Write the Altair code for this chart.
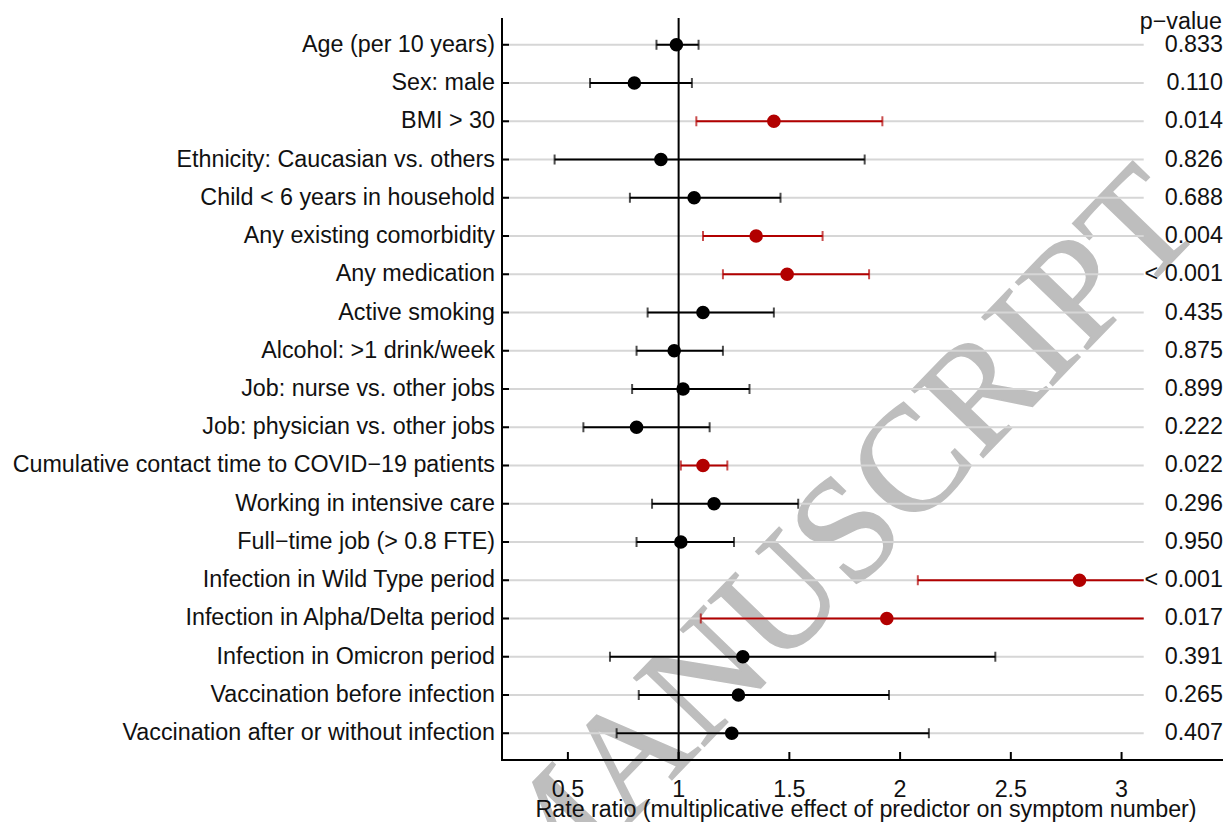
import altair as alt
import pandas as pd

labels = [
    "Age (per 10 years)",
    "Sex: male",
    "BMI > 30",
    "Ethnicity: Caucasian vs. others",
    "Child < 6 years in household",
    "Any existing comorbidity",
    "Any medication",
    "Active smoking",
    "Alcohol: >1 drink/week",
    "Job: nurse vs. other jobs",
    "Job: physician vs. other jobs",
    "Cumulative contact time to COVID\u221219 patients",
    "Working in intensive care",
    "Full\u2212time job (> 0.8 FTE)",
    "Infection in Wild Type period",
    "Infection in Alpha/Delta period",
    "Infection in Omicron period",
    "Vaccination before infection",
    "Vaccination after or without infection",
]
estimate = [0.99, 0.80, 1.43, 0.92, 1.07, 1.35, 1.49, 1.11, 0.98, 1.02,
            0.81, 1.11, 1.16, 1.01, 2.81, 1.94, 1.29, 1.27, 1.24]
ci_low = [0.90, 0.60, 1.08, 0.44, 0.78, 1.11, 1.20, 0.86, 0.81, 0.79,
          0.57, 1.01, 0.88, 0.81, 2.08, 1.10, 0.69, 0.82, 0.72]
ci_high = [1.09, 1.06, 1.92, 1.84, 1.46, 1.65, 1.86, 1.43, 1.20, 1.32,
           1.14, 1.22, 1.54, 1.25, 3.80, 3.42, 2.43, 1.95, 2.13]
p_text = ["0.833", "0.110", "0.014", "0.826", "0.688", "0.004", "< 0.001",
          "0.435", "0.875", "0.899", "0.222", "0.022", "0.296", "0.950",
          "< 0.001", "0.017", "0.391", "0.265", "0.407"]
x_ticks = [0.5, 1, 1.5, 2, 2.5, 3]
x_title = "Rate ratio (multiplicative effect of predictor on symptom number)"
p_header = "p\u2212value"
watermark_text = "MANUSCRIPT"

X_MIN, X_MAX = 0.2025, 3.458
CLIP = 3.1
W, H = 721, 742
FONT = "Liberation Sans"
FS = 23.3
INK = "#111111"
RED = "#b20000"


def is_sig(p):
    return p.startswith("<") or float(p) < 0.05


df = pd.DataFrame({
    "label": labels,
    "est": estimate,
    "lo": ci_low,
    "hi": ci_high,
    "p": p_text,
    "sig": ["yes" if is_sig(p) else "no" for p in p_text],
})
df["hi_c"] = df["hi"].clip(upper=CLIP)
df["capped"] = df["hi"] <= CLIP

xscale = alt.Scale(domain=[X_MIN, X_MAX], nice=False, zero=False)
yscale = alt.Scale(type="point", padding=0.7)
Y = alt.Y("label:N", sort=labels, scale=yscale, axis=None)
COLOR = alt.Color("sig:N", scale=alt.Scale(domain=["no", "yes"], range=["#000000", RED]), legend=None)

base = alt.Chart(df)
ticks_df = pd.DataFrame({"v": x_ticks})

watermark = alt.Chart(pd.DataFrame({"t": [watermark_text]})).mark_text(
    angle=314, font="Liberation Serif", fontSize=150, color="#bebebe",
    stroke="#bebebe", strokeWidth=1.5,
    align="center", baseline="middle"
).encode(x=alt.value(335), y=alt.value(526), text="t:N")

grid = base.mark_rule(color="#d6d6d6", strokeWidth=2).encode(
    y=Y, x=alt.X(datum=X_MIN, scale=xscale, axis=None), x2=alt.datum(CLIP))

# axis lines
yaxis_line = alt.Chart(pd.DataFrame({"a": [0]})).mark_rule(color="#000000", strokeWidth=2).encode(
    x=alt.value(0), y=alt.value(0), y2=alt.value(H + 1))
xaxis_line = alt.Chart(pd.DataFrame({"a": [0]})).mark_rule(color="#000000", strokeWidth=2).encode(
    x=alt.value(-1), x2=alt.value(W), y=alt.value(H))

# inward ticks
ytick = base.mark_rule(color="#000000", strokeWidth=2).encode(
    y=Y, x=alt.value(0), x2=alt.value(7))
xtick = alt.Chart(ticks_df).mark_rule(color="#000000", strokeWidth=2).encode(
    x=alt.X("v:Q", scale=xscale, axis=None), y=alt.value(H), y2=alt.value(H - 8))

# axis labels and title
ylabels = base.mark_text(align="right", baseline="middle", font=FONT, fontSize=FS, color=INK).encode(
    y=Y, x=alt.value(-7), text="label:N")
xlabels = alt.Chart(ticks_df).mark_text(align="center", baseline="middle", font=FONT, fontSize=FS, color=INK).encode(
    x=alt.X("v:Q", scale=xscale, axis=None), y=alt.value(H + 30), text=alt.Text("v:Q", format="~g"))
xtitle = alt.Chart(pd.DataFrame({"t": [x_title]})).mark_text(
    align="center", baseline="middle", font=FONT, fontSize=FS, color=INK).encode(
    x=alt.value(364), y=alt.value(H + 50), text="t:N")

vline = alt.Chart(pd.DataFrame({"v": [1]})).mark_rule(color="#000000", strokeWidth=2).encode(
    x=alt.X("v:Q", scale=xscale, axis=None))

ci = base.mark_rule(strokeWidth=2).encode(
    y=Y, x=alt.X("lo:Q", scale=xscale, axis=None), x2="hi_c:Q", color=COLOR)

cap_lo = base.mark_tick(thickness=2, size=10).encode(
    y=Y, x=alt.X("lo:Q", scale=xscale, axis=None), color=COLOR)
cap_hi = base.transform_filter("datum.capped").mark_tick(thickness=2, size=10).encode(
    y=Y, x=alt.X("hi:Q", scale=xscale, axis=None), color=COLOR)

points = base.mark_circle(size=185, opacity=1).encode(
    y=Y, x=alt.X("est:Q", scale=xscale, axis=None), color=COLOR)

ptext = base.mark_text(align="right", baseline="middle", font=FONT, fontSize=FS, color=INK).encode(
    y=Y, x=alt.X(datum=X_MAX, scale=xscale, axis=None), text="p:N")

phead = alt.Chart(pd.DataFrame({"t": [p_header]})).mark_text(
    align="right", baseline="middle", font=FONT, fontSize=FS, color=INK, dx=-1).encode(
    x=alt.X(datum=X_MAX, scale=xscale, axis=None), y=alt.value(4), text="t:N")

chart = alt.layer(
    watermark, grid, yaxis_line, xaxis_line, ytick, xtick, ylabels, xlabels, xtitle,
    vline, ci, cap_lo, cap_hi, points, ptext, phead
).properties(
    width=W, height=H,
    autosize=alt.AutoSizeParams(type="none"),
    padding={"left": 494, "top": 10, "right": 0, "bottom": 62},
).configure_view(stroke=None)

chart.save("out.html", embed_options={"renderer": "svg", "actions": False})
